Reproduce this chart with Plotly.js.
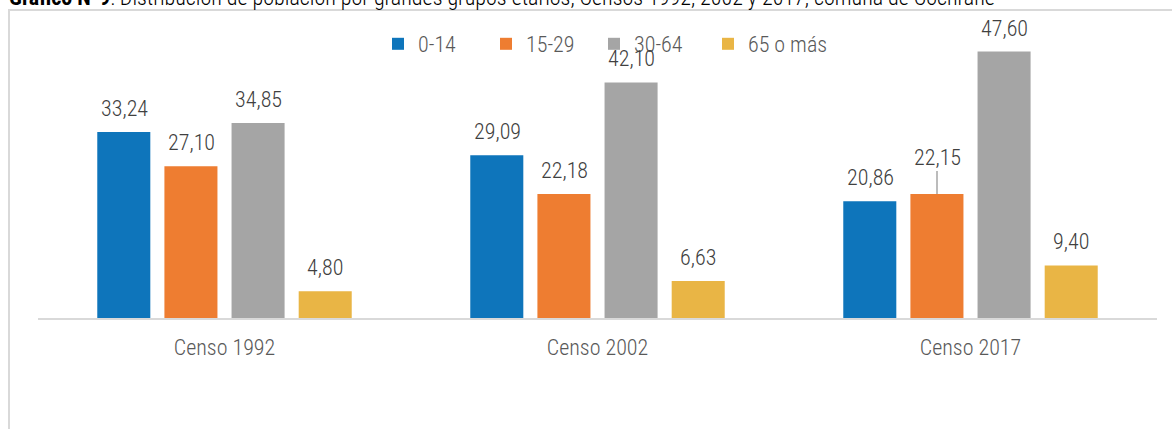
<!DOCTYPE html>
<html>
<head>
<meta charset="utf-8">
<script src="https://cdn.plot.ly/plotly-3.0.1.min.js"></script>
<style>
html,body{margin:0;padding:0;background:#fff;}
#chart{width:1172px;height:429px;}
</style>
</head>
<body>
<div id="chart"></div>
<script>
// ---- data ----
const categories = ["Censo 1992", "Censo 2002", "Censo 2017"];
const seriesNames = ["0-14", "15-29", "30-64", "65 o más"];
const values_0_14 = [33.24, 29.09, 20.86];
const values_15_29 = [27.10, 22.18, 22.15];
const values_30_64 = [34.85, 42.10, 47.60];
const values_65 = [4.80, 6.63, 9.40];
const titleBold = "Gráfico N°9";
const titleRest = ": Distribución de población por grandes grupos etarios, Censos 1992, 2002 y 2017, comuna de Cochrane";

// ---- styling ----
const colors = ["#0e75bb", "#ee7d31", "#a5a5a5", "#e9b545"];
const allValues = [values_0_14, values_15_29, values_30_64, values_65];
const FONT = "'Roboto Condensed', 'Liberation Sans', sans-serif";

const W = 1172, H = 429;
const M = {l: 38, r: 15, t: 27, b: 111};
const plotW = W - M.l - M.r, plotH = H - M.t - M.b;
const px2x = px => (px - M.l) / plotW;
const px2y = py => (H - M.b - py) / plotH;

const fmt = v => v.toFixed(2).replace('.', ',');

const traces = allValues.map((vals, i) => ({
  type: 'bar',
  name: seriesNames[i],
  x: categories,
  y: vals,
  marker: {color: colors[i]},
  legend: i === 3 ? 'legend2' : 'legend',
  hoverinfo: 'skip'
}));

// value labels as annotations
const slot = 67;
const annotations = [];
allValues.forEach((vals, i) => {
  vals.forEach((v, j) => {
    const leader = (i === 1 && j === 2);
    const a = {
      x: categories[j], y: v, xref: 'x', yref: 'y',
      xshift: (i - 1.5) * slot,
      text: fmt(v),
      font: {family: FONT, size: 22, color: '#404040', weight: 300},
      showarrow: false,
      yanchor: 'bottom',
      yshift: 9
    };
    if (leader) {
      a.showarrow = true; a.arrowhead = 0; a.ax = 0; a.ay = -37;
      a.arrowcolor = '#a6a6a6'; a.arrowwidth = 1.5; a.standoff = 0;
      a.yanchor = 'middle'; a.yshift = 0;
    }
    annotations.push(a);
  });
});

annotations.push({
  xref: 'paper', yref: 'paper', x: px2x(7), y: px2y(12),
  xanchor: 'left', yanchor: 'bottom', showarrow: false,
  text: '<b>' + titleBold + '</b>' + titleRest,
  font: {family: FONT, size: 22, color: '#000', weight: 300}
});

const legendFont = {family: FONT, size: 22, color: '#595959', weight: 300};

const layout = {
  width: W, height: H,
  margin: M,
  paper_bgcolor: '#fff', plot_bgcolor: '#fff',
  barmode: 'group',
  bargap: 0.28,
  bargroupgap: 0.21,
  showlegend: true,
  legend: {
    orientation: 'h', x: px2x(378), y: px2y(44), xanchor: 'left', yanchor: 'middle',
    font: legendFont, itemwidth: 30, entrywidth: 63, bgcolor: 'rgba(0,0,0,0)'
  },
  legend2: {
    orientation: 'h', x: px2x(708), y: px2y(44), xanchor: 'left', yanchor: 'middle',
    font: legendFont, itemwidth: 30, bgcolor: 'rgba(0,0,0,0)'
  },
  xaxis: {
    type: 'category',
    showline: true, linecolor: '#d9d9d9', linewidth: 2,
    ticks: '', showgrid: false, zeroline: false,
    tickfont: {family: FONT, size: 22, color: '#595959', weight: 300},
    ticklabelstandoff: 9,
    fixedrange: true
  },
  yaxis: {
    range: [0, 52], visible: false, showgrid: false, zeroline: false, fixedrange: true
  },
  annotations: annotations,
  shapes: [
    {type: 'line', xref: 'paper', yref: 'paper', x0: px2x(9), x1: px2x(9), y0: px2y(10), y1: px2y(432), line: {color: '#d9d9d9', width: 2}},
    {type: 'line', xref: 'paper', yref: 'paper', x0: px2x(8), x1: px2x(1175), y0: px2y(10), y1: px2y(10), line: {color: '#d9d9d9', width: 2}}
  ]
};

Plotly.newPlot('chart', traces, layout, {staticPlot: true, displayModeBar: false});
</script>
</body>
</html>
